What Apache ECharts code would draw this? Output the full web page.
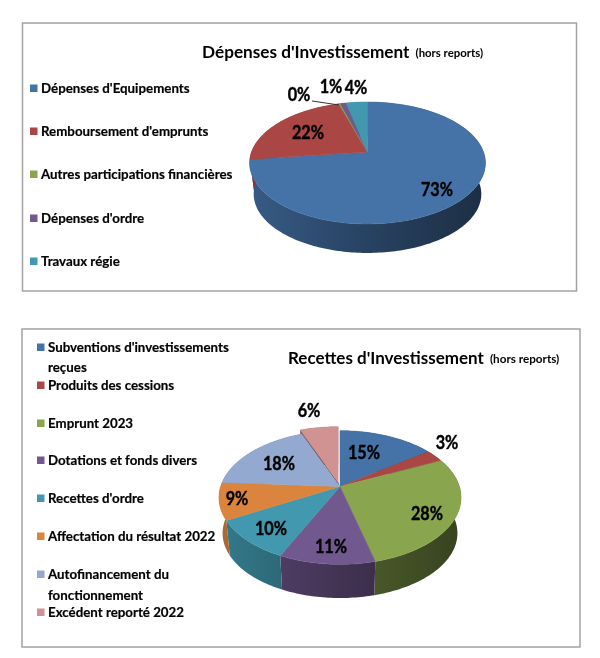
<!DOCTYPE html>
<html>
<head>
<meta charset="utf-8">
<style>html,body{margin:0;padding:0;background:#fff}#c{width:600px;height:658px}</style>
<script src="https://cdn.jsdelivr.net/npm/echarts@6/dist/echarts.min.js"></script>
</head>
<body>
<div id="c"></div>
<script>
const depensesCategories = ["Dépenses d'Equipements", "Remboursement d'emprunts", "Autres participations financières", "Dépenses d'ordre", "Travaux régie"];
const depensesValues = [73.1, 22.2, 0.3, 0.9, 3.5];
const recettesCategories = ["Subventions d'investissements\nreçues", "Produits des cessions", "Emprunt 2023", "Dotations et fonds divers", "Recettes d'ordre", "Affectation du résultat 2022", "Autofinancement du\nfonctionnement", "Excédent reporté 2022"];
const recettesValues = [15, 3, 28, 11, 10, 9, 18, 6];
const palette = ['#4572a7', '#aa4643', '#89a54e', '#71588f', '#4198af', '#db843d', '#93a9cf', '#d19392'];
const titleMain = ["Dépenses d'Investissement", "Recettes d'Investissement"];
const titleNote = '(hors reports)';

const FONT = 'Lato, Carlito, "Open Sans", sans-serif';

// Layout of the two perspective pies (not data)
const pieA = {cx: 367.5, cy: 152, R: 116, B: 59, k: 0.18, dy: 31.5, scale: 0.965,
  labels: [[437,190],[308,133],[299,95],[331,87],[356,88]],
  leader: [[312,101],[339,105]], explode: {}};
const pieB = {cx: 340, cy: 486.5, R: 119.4, B: 65, k: 0.165, dy: 36, scale: 0.97,
  labels: [[364,453],[447,443],[427,514],[331,547],[271,529],[237,499],[279,464],[309,411]],
  explode: {7: [-1.8, -4]}};
const legendA = {markX: 30, textX: 41, rows: [[88],[131],[174],[218],[261]]};
const legendB = {markX: 37, textX: 48, rows: [[347,367],[385],[423],[460],[498],[536],[574,595],[612]]};

function shade(hex, f) {
  const n = parseInt(hex.slice(1), 16);
  const c = [n >> 16, (n >> 8) & 255, n & 255].map(v => Math.round(v * f));
  return 'rgb(' + c.join(',') + ')';
}
function project(p, theta) {
  const u = Math.sin(theta), v = -Math.cos(theta), w = 1 - p.k * v;
  return [p.cx + p.R * u / w, p.cy + p.B * v / w];
}
function lower(p, pt) {
  return [p.cx + p.scale * (pt[0] - p.cx), p.cy + p.dy + p.scale * (pt[1] - p.cy)];
}
function arc(p, a0, a1) {
  const pts = [], n = Math.max(2, Math.ceil((a1 - a0) / 0.02));
  for (let i = 0; i <= n; i++) pts.push(project(p, a0 + (a1 - a0) * i / n));
  return pts;
}
function angles(values) {
  const total = values.reduce((a, b) => a + b, 0);
  let acc = 0;
  return values.map(v => {
    const a0 = acc / total * Math.PI * 2;
    acc += v;
    return [a0, acc / total * Math.PI * 2];
  });
}
function shift(pts, d) { return d ? pts.map(q => [q[0] + d[0], q[1] + d[1]]) : pts; }

function wallSeries(p, values) {
  const ang = angles(values);
  return {
    type: 'custom', coordinateSystem: 'none', z: 2, silent: true, animation: false,
    data: values,
    renderItem(params) {
      const i = params.dataIndex, d = p.explode[i];
      const top = arc(p, ang[i][0], ang[i][1]);
      const bottom = top.map(q => lower(p, q)).reverse();
      const grad = new echarts.graphic.LinearGradient(p.cx - p.R * 1.02, 0, p.cx + p.R * 1.02, 0, [
        {offset: 0, color: shade(palette[i], 0.8)},
        {offset: 0.5, color: shade(palette[i], 0.58)},
        {offset: 1, color: shade(palette[i], 0.4)}
      ], true);
      return {type: 'polygon', shape: {points: shift(top.concat(bottom), d)}, style: {fill: grad}};
    }
  };
}
function topSeries(p, values) {
  const ang = angles(values);
  return {
    type: 'custom', coordinateSystem: 'none', z: 3, silent: true, animation: false,
    data: values,
    renderItem(params) {
      const i = params.dataIndex, d = p.explode[i];
      const col = palette[i];
      const pts = shift([[p.cx, p.cy]].concat(arc(p, ang[i][0], ang[i][1])), d);
      const children = [];
      if (d) {
        const a = pts[0], b = pts[1];
        children.push({type: 'polygon', shape: {points: [a, b, [b[0] + 1, b[1] + 2.5], [a[0] + 1.5, a[1] + 3.5]]},
          style: {fill: '#4a3a3c'}});
      }
      children.push({type: 'polygon', shape: {points: pts}, style: {fill: col, stroke: col, lineWidth: 0.5}});
      return {type: 'group', children};
    }
  };
}
function labelSeries(p, values) {
  return {
    type: 'custom', coordinateSystem: 'none', z: 5, silent: true, animation: false,
    data: values,
    renderItem(params, api) {
      const i = params.dataIndex, pos = p.labels[i];
      const children = [{type: 'text', x: pos[0], y: pos[1], scaleX: 0.9, style: {
        text: Math.round(api.value(0)) + '%', x: 0, y: 0, align: 'center', verticalAlign: 'middle',
        fontFamily: FONT, fontWeight: 'bold', fontSize: 18, fill: '#000', stroke: '#000', lineWidth: 0.4}}];
      if (p.leader && i === 2) {
        children.push({type: 'polyline', shape: {points: p.leader}, style: {stroke: '#333', lineWidth: 1, fill: 'none'}});
      }
      return {type: 'group', children};
    }
  };
}
function legendSeries(L, cats) {
  return {
    type: 'custom', coordinateSystem: 'none', z: 6, silent: true, animation: false,
    data: cats.map((c, i) => i),
    renderItem(params) {
      const i = params.dataIndex, rows = L.rows[i], lines = cats[i].split('\n');
      const children = [{type: 'rect', shape: {x: L.markX, y: rows[0] - 3.5, width: 7.5, height: 7.5}, style: {fill: palette[i]}}];
      lines.forEach((t, j) => children.push({type: 'text', style: {
        text: t, x: L.textX, y: rows[j] + 1, align: 'left', verticalAlign: 'middle',
        fontFamily: FONT, fontWeight: 'bold', fontSize: 13.3, fill: '#000', stroke: '#000', lineWidth: 0.2}}));
      return {type: 'group', children};
    }
  };
}
function richFor(size, note) {
  return {
    a: {fontFamily: FONT, fontWeight: 'bold', fontSize: size, color: '#000'},
    b: {fontFamily: FONT, fontWeight: 'bold', fontSize: note, color: '#000', padding: [2, 0, 0, 1]}
  };
}
const chart = echarts.init(document.getElementById('c'), null, {renderer: 'canvas'});
chart.setOption({
  animation: false,
  backgroundColor: '#fff',
  title: [
    {text: '{a|' + titleMain[0] + '} {b|' + titleNote + '}', left: 202, top: 43.5, padding: 0, textStyle: {rich: richFor(17.2, 11.4)}},
    {text: '{a|' + titleMain[1] + '} {b|' + titleNote + '}', left: 288, top: 349.5, padding: 0, textStyle: {rich: richFor(17, 11.7)}}
  ],
  graphic: [
    {type: 'rect', z: 0, silent: true, shape: {x: 22.5, y: 23, width: 554, height: 268}, style: {fill: '#fff', stroke: '#a3a3a3', lineWidth: 1.5}},
    {type: 'rect', z: 0, silent: true, shape: {x: 22, y: 329, width: 558, height: 318}, style: {fill: '#fff', stroke: '#a3a3a3', lineWidth: 1.5}}
  ],
  series: [
    wallSeries(pieA, depensesValues), topSeries(pieA, depensesValues), labelSeries(pieA, depensesValues), legendSeries(legendA, depensesCategories),
    wallSeries(pieB, recettesValues), topSeries(pieB, recettesValues), labelSeries(pieB, recettesValues), legendSeries(legendB, recettesCategories)
  ]
});
</script>
</body>
</html>
